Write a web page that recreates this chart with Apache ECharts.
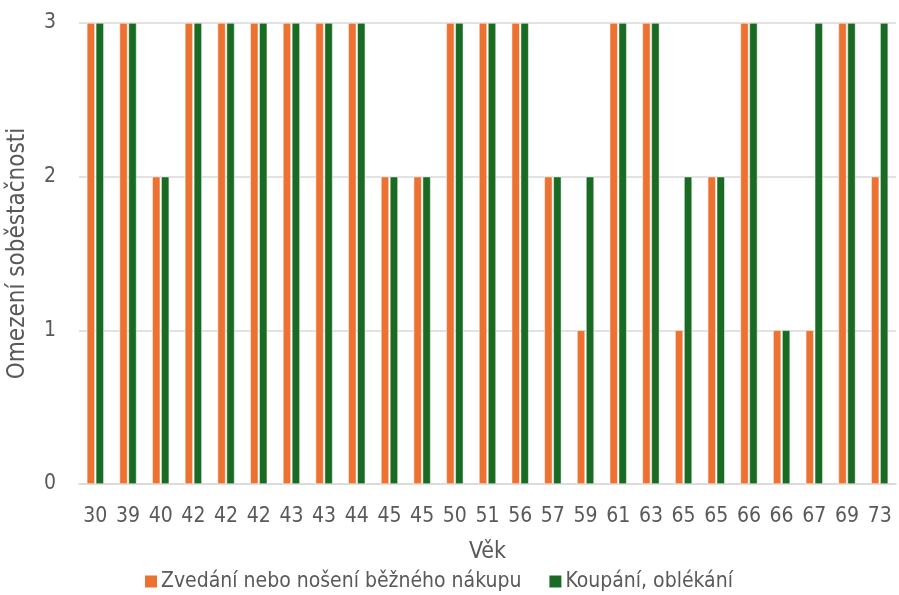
<!DOCTYPE html>
<html>
<head>
<meta charset="utf-8">
<script src="https://cdn.jsdelivr.net/npm/echarts@6/dist/echarts.min.js"></script>
<style>
  html, body { margin: 0; padding: 0; background: #ffffff; }
  #chart { width: 899px; height: 595px; }
</style>
</head>
<body>
<div id="chart"></div>
<script>
// Ages of respondents (one category per person)
const ages = ['30','39','40','42','42','42','43','43','44','45','45','50','51','56','57','59','61','63','65','65','66','66','67','69','73'];
// Self-sufficiency limitation score per activity
const zvedani = [3,3,2,3,3,3,3,3,3,2,2,3,3,3,2,1,3,3,1,2,3,1,1,3,2];
const koupani = [3,3,2,3,3,3,3,3,3,2,2,3,3,3,2,2,3,3,2,2,3,1,3,3,3];
const seriesNames = ['Zvedání nebo nošení běžného nákupu', 'Koupání, oblékání'];
const yTicks = [0, 1, 2, 3];

const FONT = '"DejaVu Sans Condensed", "DejaVu Sans", sans-serif';
const TEXT = '#595959';

const chart = echarts.init(document.getElementById('chart'), null, { renderer: 'canvas' });
chart.setOption({
  animation: false,
  textStyle: { fontFamily: FONT, color: TEXT },
  grid: { left: 79, right: 3, top: 23, bottom: 111, outerBoundsMode: 'none' },
  legend: {
    top: 571,
    left: 143,
    padding: 0,
    itemWidth: 14,
    itemHeight: 14,
    itemGap: 26,
    icon: 'rect',
    textStyle: { fontFamily: FONT, fontSize: 21, color: TEXT, padding: [0, 0, 0, -2] },
    data: seriesNames
  },
  xAxis: {
    type: 'category',
    data: ages,
    name: 'Věk',
    nameLocation: 'middle',
    nameGap: 57,
    nameTextStyle: { fontFamily: FONT, fontSize: 23, color: TEXT },
    axisLine: { show: true, lineStyle: { color: '#d9d9d9', width: 1.5 } },
    axisTick: { show: false },
    axisLabel: { fontFamily: FONT, fontSize: 21, color: TEXT, margin: 22, interval: 0 }
  },
  yAxis: {
    type: 'value',
    min: yTicks[0],
    max: yTicks[yTicks.length - 1],
    interval: 1,
    name: 'Omezení soběstačnosti',
    nameLocation: 'middle',
    nameGap: 49,
    nameRotate: 90,
    nameTextStyle: { fontFamily: FONT, fontSize: 24, color: TEXT },
    axisLine: { show: false },
    axisTick: { show: false },
    axisLabel: { fontFamily: FONT, fontSize: 21, color: TEXT, margin: 23 },
    splitLine: { show: true, lineStyle: { color: '#d9d9d9', width: 1.5 } }
  },
  series: [
    {
      name: seriesNames[0],
      type: 'bar',
      data: zvedani,
      barWidth: 8,
      barGap: '12%',
      itemStyle: { color: '#ED7131', borderColor: '#ffffff', borderWidth: 0.5 }
    },
    {
      name: seriesNames[1],
      type: 'bar',
      data: koupani,
      barWidth: 8,
      barGap: '12%',
      itemStyle: { color: '#196B24', borderColor: '#ffffff', borderWidth: 0.5 }
    }
  ]
});
</script>
</body>
</html>
